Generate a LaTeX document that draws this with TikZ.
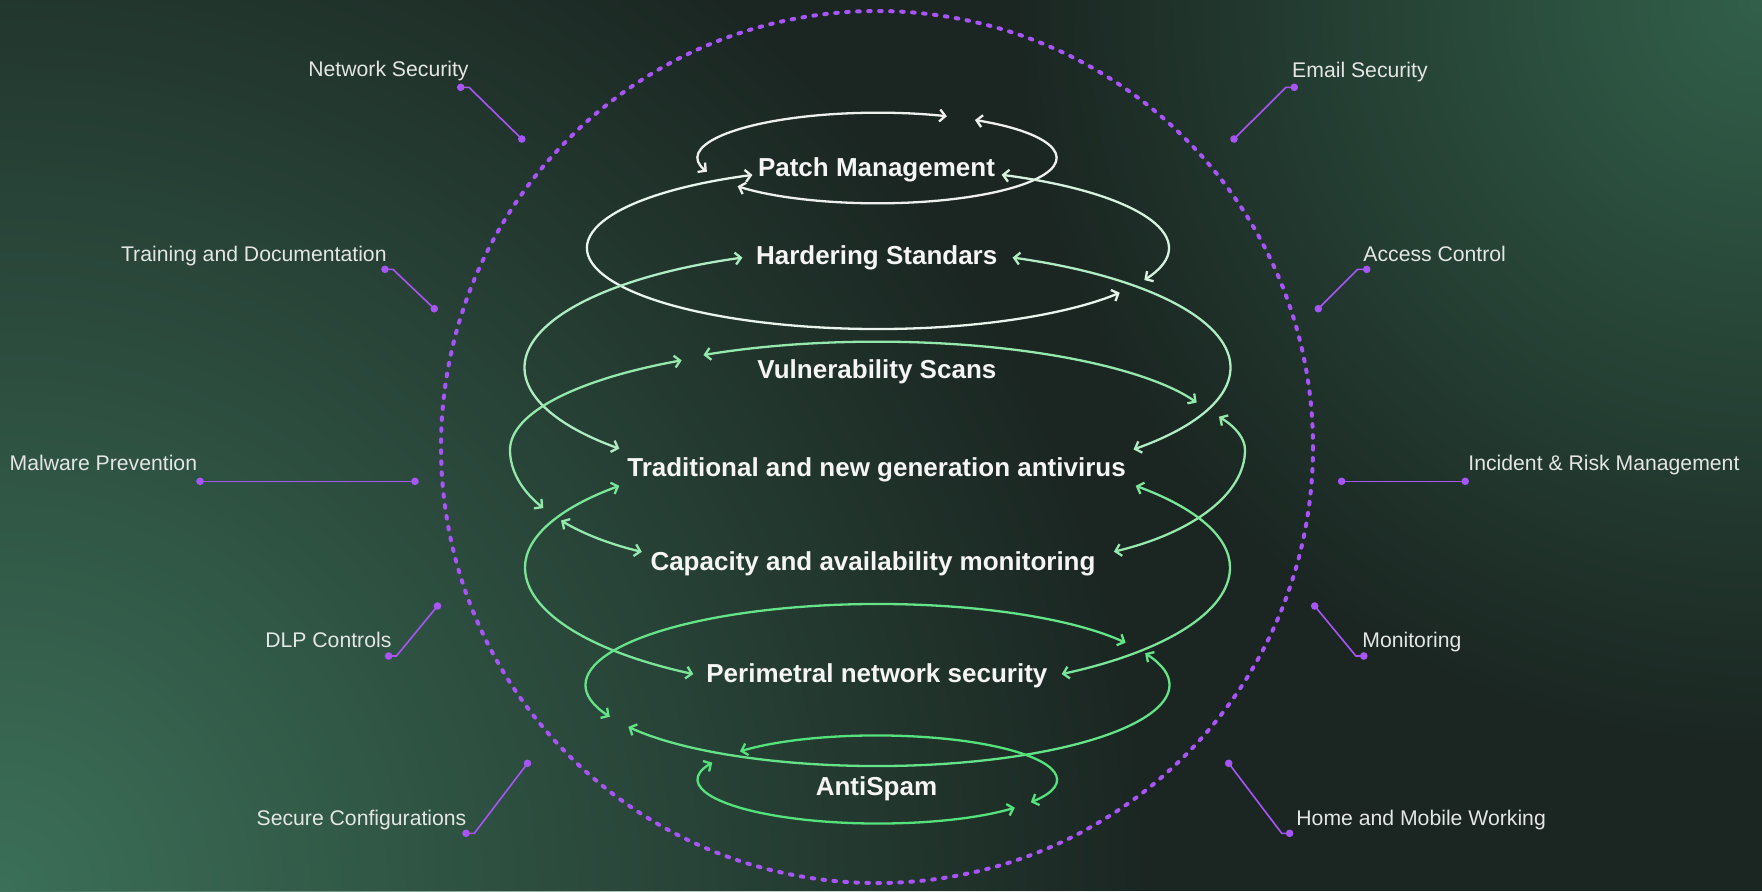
\documentclass[tikz,border=0pt]{standalone}
\usepackage{fontspec}
\setmainfont{Liberation Sans}
\usetikzlibrary{arrows.meta,fadings}

\definecolor{bgbase}{RGB}{27,38,34}
\definecolor{glowsw}{RGB}{60,112,88}
\definecolor{glowne}{RGB}{50,96,74}
\definecolor{dotpurple}{RGB}{168,85,247}
\definecolor{labelgray}{RGB}{228,230,229}
\definecolor{sp0}{RGB}{238,240,238}
\definecolor{sp1}{RGB}{232,244,236}
\definecolor{sp1b}{RGB}{214,242,222}
\definecolor{sp2}{RGB}{176,236,194}
\definecolor{sp3}{RGB}{148,232,172}
\definecolor{sp4}{RGB}{122,229,152}
\definecolor{sp6}{RGB}{100,227,136}
\definecolor{sp7}{RGB}{84,226,124}

\tikzfading[name=glow, inner color=transparent!0, outer color=transparent!100]

\tikzset{
  layer/.style={font=\fontsize{13}{15}\selectfont\bfseries, text=white!96!black, inner sep=0pt},
  outer/.style={font=\fontsize{10.6}{12}\selectfont, text=labelgray, inner sep=0pt},
  leader/.style={dotpurple, line width=0.8pt},
  leaddot/.style={circle, fill=dotpurple, inner sep=0pt, minimum size=3.8pt},
  spiral/.style={line width=1.15pt, line cap=round, <->},
}

\begin{document}
\begin{tikzpicture}[x=0.5pt, y=-0.5pt, >={Straight Barb[length=2.8pt,width=6pt]}]
\useasboundingbox (0,0) rectangle (1762,891);
% background
\begin{scope}
  \clip (0,0) rectangle (1762,891);
  \fill[bgbase] (0,0) rectangle (1762,891);
  \fill[glowsw, path fading=glow] (0,891) circle[radius=1150];
  \fill[glowne, path fading=glow] (1762,0) circle[radius=750];
\end{scope}

% dotted ring
\draw[dotpurple, line width=2pt, line cap=round, dash pattern=on 1.3pt off 4.2pt] (877,447) circle[radius=436];

% layer labels
\node[layer, anchor=base] (patch) at (876.5,176) {Patch Management};
\node[layer, anchor=base] (harden) at (876.7,264) {Hardering Standars};
\node[layer, anchor=base] (vuln) at (876.9,378.3) {Vulnerability Scans};
\node[layer, anchor=base] (antiv) at (876.5,476.7) {Traditional and new generation antivirus};
\node[layer, anchor=base] (capac) at (873,570.7) {Capacity and availability monitoring};
\node[layer, anchor=base] (perim) at (876.9,682.3) {Perimetral network security};
\node[layer, anchor=base] (spam) at (876.5,795) {AntiSpam};

% spiral centres
\coordinate (l0) at (877.5,158);
\coordinate (l1) at (877.5,248);
\coordinate (l2) at (877.5,367.5);
\coordinate (l3a) at (877.5,438.7);
\coordinate (l3) at (877.5,450);
\coordinate (l3w) at (746,450);
\coordinate (l4) at (877.5,567.5);
\coordinate (l6) at (877.5,685);
\coordinate (l7) at (877.5,779.5);

% spiral
\draw[spiral, sp0] ([shift={(162.4:179 and 45.3)}]l0) arc[start angle=162.4, end angle=292.8, x radius=179, y radius=45.3];
\draw[spiral, sp0] ([shift={(-57:179 and 45.3)}]l0) arc[start angle=-57, end angle=141.4, x radius=179, y radius=45.3];
\draw[spiral, sp1] ([shift={(244.5:290.5 and 81)}]l1) arc[start angle=244.5, end angle=33.5, x radius=290.5, y radius=81];
\draw[spiral, sp1b] ([shift={(-64.7:290.5 and 81)}]l1) arc[start angle=-64.7, end angle=23.3, x radius=290.5, y radius=81];
\draw[spiral, sp2] ([shift={(247.5:353 and 119)}]l2) arc[start angle=247.5, end angle=137, x radius=353, y radius=119];
\draw[spiral, sp2] ([shift={(-67.5:353 and 119)}]l2) arc[start angle=-67.5, end angle=43.5, x radius=353, y radius=119];
\draw[spiral, sp3] ([shift={(239.6:344 and 97)}]l3a) arc[start angle=239.6, end angle=338.1, x radius=344, y radius=97];
\draw[spiral, sp3] ([shift={(237.8:367.5 and 106)}]l3) arc[start angle=237.8, end angle=180, x radius=367.5, y radius=106]
  arc[start angle=180, end angle=149.2, x radius=236, y radius=113.5];
\draw[spiral, sp3] ([shift={(141.6:236 and 113.5)}]l3w) arc[start angle=141.6, end angle=116.2, x radius=236, y radius=113.5];
\draw[spiral, sp3] ([shift={(-21.7:367.5 and 90)}]l3) arc[start angle=-21.7, end angle=0, x radius=367.5, y radius=90]
  arc[start angle=0, end angle=63.6, x radius=236, y radius=113.5];
\draw[spiral, sp4] ([shift={(222.9:352.5 and 120)}]l4) arc[start angle=222.9, end angle=180, x radius=352.5, y radius=120]
  arc[start angle=180, end angle=121.5, x radius=352.5, y radius=125];
\draw[spiral, sp4] ([shift={(-42.9:352.5 and 120)}]l4) arc[start angle=-42.9, end angle=0, x radius=352.5, y radius=120]
  arc[start angle=0, end angle=58.5, x radius=352.5, y radius=125];
\draw[spiral, sp6] ([shift={(156.9:291 and 81)}]l6) arc[start angle=156.9, end angle=328.5, x radius=291, y radius=81];
\draw[spiral, sp6] ([shift={(-23.1:291 and 81)}]l6) arc[start angle=-23.1, end angle=148.9, x radius=291, y radius=81];
\draw[spiral, sp7] ([shift={(219.8:179 and 44)}]l7) arc[start angle=219.8, end angle=391.1, x radius=179, y radius=44];
\draw[spiral, sp7] ([shift={(202.6:179 and 44)}]l7) arc[start angle=202.6, end angle=39.9, x radius=179, y radius=44];

% left leaders
\node[leaddot] (netsec-a) at (460.7,87.3) {};
\node[leaddot] (netsec-b) at (521.8,139) {};
\draw[leader] (netsec-a.center) -- ++(8.3,0) -- (netsec-b.center);
\node[outer, anchor=base east] (netsec) at (469,76) {Network Security};

\node[leaddot] (train-a) at (385,269.3) {};
\node[leaddot] (train-b) at (434.3,308.7) {};
\draw[leader] (train-a.center) -- ++(7.9,0) -- (train-b.center);
\node[outer, anchor=base east] (train) at (387,261.7) {Training and Documentation};

\node[leaddot] (malware-a) at (200,481.3) {};
\node[leaddot] (malware-b) at (415,481.3) {};
\draw[leader] (malware-a.center) -- (malware-b.center);
\node[outer, anchor=base east] (malware) at (197.5,470.7) {Malware Prevention};

\node[leaddot] (dlp-a) at (388.6,656) {};
\node[leaddot] (dlp-b) at (437.5,606) {};
\draw[leader] (dlp-a.center) -- ++(7.8,0) -- (dlp-b.center);
\node[outer, anchor=base east] (dlp) at (391.8,647.7) {DLP Controls};

\node[leaddot] (secconf-a) at (466,833.3) {};
\node[leaddot] (secconf-b) at (527.5,763.3) {};
\draw[leader] (secconf-a.center) -- ++(8.3,0) -- (secconf-b.center);
\node[outer, anchor=base east] (secconf) at (466.8,825) {Secure Configurations};

% right leaders
\node[leaddot] (email-a) at (1294.3,87.3) {};
\node[leaddot] (email-b) at (1234,139) {};
\draw[leader] (email-a.center) -- ++(-8.3,0) -- (email-b.center);
\node[outer, anchor=base west] (email) at (1291.8,77.3) {Email Security};

\node[leaddot] (access-a) at (1366.7,269.3) {};
\node[leaddot] (access-b) at (1318.3,308.7) {};
\draw[leader] (access-a.center) -- ++(-9,0) -- (access-b.center);
\node[outer, anchor=base west] (access) at (1363,261.7) {Access Control};

\node[leaddot] (incident-a) at (1341.6,481.3) {};
\node[leaddot] (incident-b) at (1465.2,481.3) {};
\draw[leader] (incident-a.center) -- (incident-b.center);
\node[outer, anchor=base west] (incident) at (1468,470.7) {Incident \& Risk Management};

\node[leaddot] (monit-a) at (1363.8,656) {};
\node[leaddot] (monit-b) at (1314.7,606) {};
\draw[leader] (monit-a.center) -- ++(-7.9,0) -- (monit-b.center);
\node[outer, anchor=base west] (monit) at (1362,647.7) {Monitoring};

\node[leaddot] (home-a) at (1289.6,833.3) {};
\node[leaddot] (home-b) at (1228.7,763.3) {};
\draw[leader] (home-a.center) -- ++(-7.9,0) -- (home-b.center);
\node[outer, anchor=base west] (home) at (1296,825) {Home and Mobile Working};
\end{tikzpicture}
\end{document}
